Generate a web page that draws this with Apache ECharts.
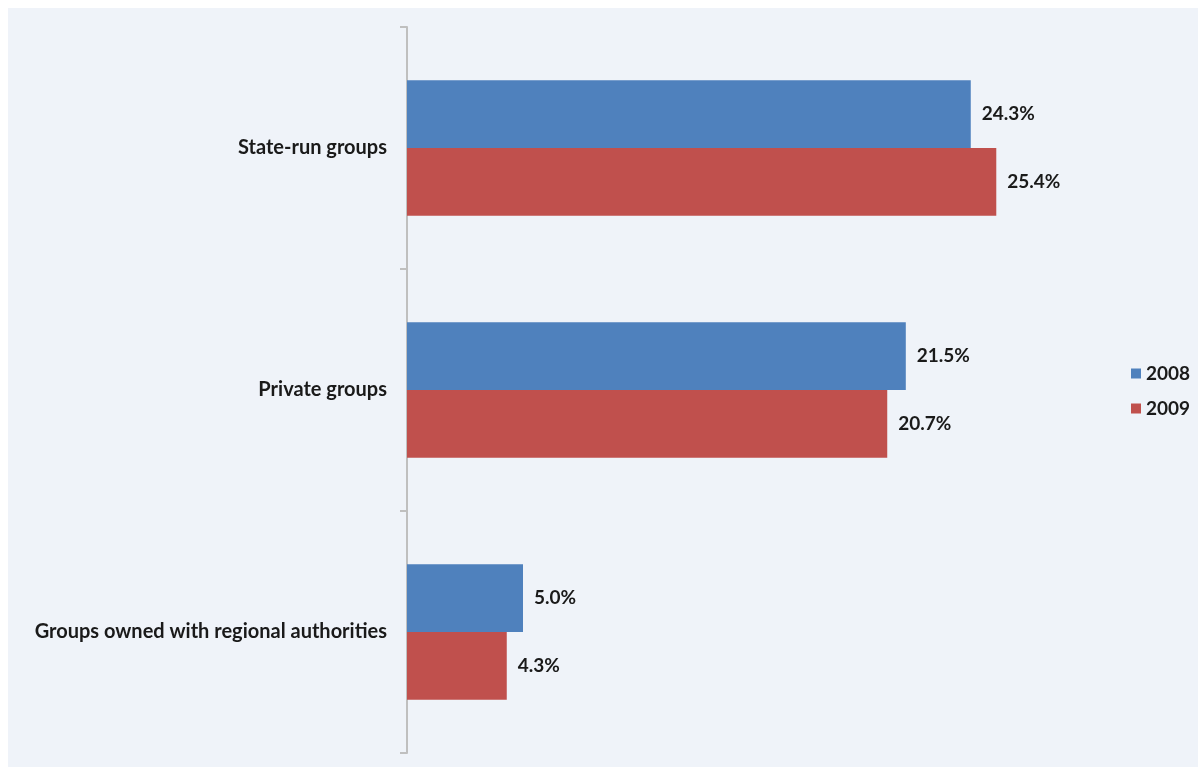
<!DOCTYPE html>
<html><head><meta charset="utf-8">
<script src="https://cdn.jsdelivr.net/npm/echarts@6/dist/echarts.min.js"></script>
<style>html,body{margin:0;padding:0;background:#fff}#c{width:1198px;height:767px}</style>
</head><body><div id="c"></div>
<script>
const categories = ['State-run groups', 'Private groups', 'Groups owned with regional authorities'];
const seriesNames = ['2008', '2009'];
const values2008 = [24.3, 21.5, 5.0];
const values2009 = [25.4, 20.7, 4.3];

const chart = echarts.init(document.getElementById('c'));
const baseFont = {fontFamily: 'Lato', fontWeight: 'bold', color: '#1A1A1A'};
function mkSeries(name, data, color) {
  return {
    name, type: 'bar', data, barGap: '0%', barCategoryGap: '44%',
    itemStyle: {color},
    label: Object.assign({show: true, position: 'right', distance: 11, fontSize: 19,
      formatter: p => p.value.toFixed(1) + '%'}, baseFont),
    emphasis: {disabled: true}
  };
}
chart.setOption({
  animation: false,
  graphic: [{type: 'rect', z: -10, shape: {x: 8, y: 8, width: 1200, height: 770}, style: {fill: '#EFF3F9'}}],
  grid: {left: 407, top: 27, width: 696, height: 726},
  legend: {
    orient: 'vertical', left: 1126, top: 359, itemWidth: 10, itemHeight: 10, itemGap: 16,
    itemTextGap: 5,
    icon: 'rect', data: seriesNames,
    textStyle: Object.assign({fontSize: 19}, baseFont)
  },
  xAxis: {type: 'value', min: 0, max: 30, show: false},
  yAxis: {
    type: 'category', data: categories, inverse: true,
    axisLine: {show: true, lineStyle: {color: '#BFBFBF', width: 2}},
    axisTick: {show: true, length: 7, lineStyle: {color: '#BFBFBF', width: 2}},
    axisLabel: Object.assign({margin: 20, fontSize: 20}, baseFont)
  },
  series: [mkSeries('2008', values2008, '#4F81BD'), mkSeries('2009', values2009, '#C0504D')]
});
</script></body></html>
